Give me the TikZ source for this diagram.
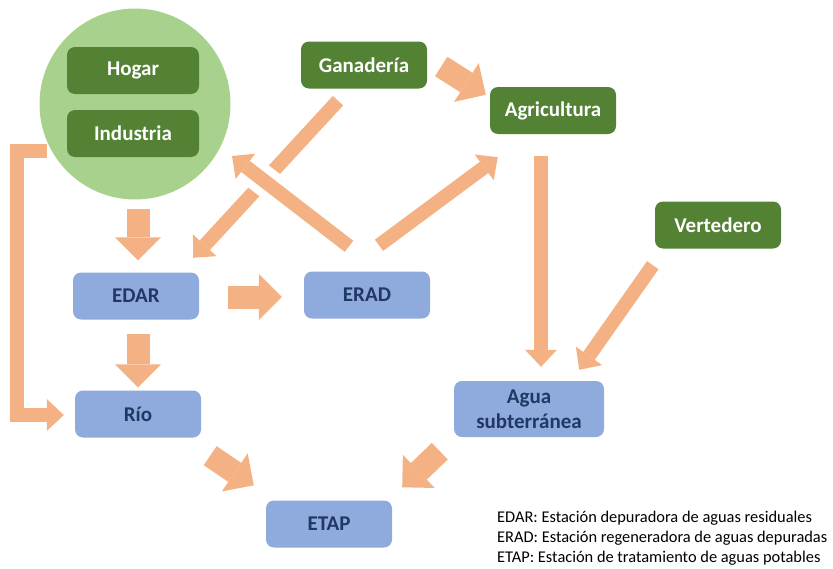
\documentclass[tikz,border=0pt]{standalone}
\usepackage{fontspec}
\setmainfont{Carlito}
\usetikzlibrary{arrows.meta,calc}

\definecolor{verdeoscuro}{HTML}{548235}
\definecolor{verdeclaro}{HTML}{A9D18E}
\definecolor{azulcaja}{HTML}{8FAADC}
\definecolor{azultexto}{HTML}{203864}
\definecolor{naranja}{HTML}{F4B183}

\tikzset{
  caja/.style={rounded corners=8pt, minimum width=126pt, minimum height=47pt, inner sep=0pt,
    align=center, font=\fontsize{21}{25}\selectfont\bfseries},
  verde/.style={caja, fill=verdeoscuro, text=white},
  azul/.style={caja, fill=azulcaja, text=azultexto},
  gruesa/.style={draw=naranja, line width=23pt, -{Triangle[length=23pt,width=46pt,line width=0pt]}},
  fina/.style={draw=naranja, line width=14pt, -{Triangle[length=17pt,width=32pt,line width=0pt]}},
}

\begin{document}
\begin{tikzpicture}[x=1pt,y=-1pt]
\useasboundingbox (0,0) rectangle (833,568);

\node[circle, fill=verdeclaro, minimum size=191pt, inner sep=0pt] (circ) at (135,104) {};
\node[verde, minimum width=132pt] (hogar) at (133,70.5) {Hogar};
\node[verde, minimum width=132pt] (industria) at (133,133.5) {Industria};
\node[verde] (gan) at (364,65) {Ganadería};
\node[verde] (agri) at (553,110.5) {Agricultura};
\node[verde] (vert) at (718,225) {Vertedero};
\node[azul] (edar) at (136,296) {EDAR};
\node[azul] (erad) at (367,295) {ERAD};
\node[azul] (rio) at (138,414) {Río};
\node[azul] (etap) at (329,524) {ETAP};
\node[azul, minimum width=150pt, minimum height=56pt] (agua) at (529,409) {Agua\\subterránea};

\node[anchor=west, align=left, inner sep=0pt, font=\fontsize{16.4}{19.8}\selectfont] (leyenda) at (497,538)
  {EDAR: Estación depuradora de aguas residuales\\
   ERAD: Estación regeneradora de aguas depuradas\\
   ETAP: Estación de tratamiento de aguas potables};

\draw[gruesa] ([xshift=3pt,yshift=-9pt]circ.south) -- ([xshift=2pt,yshift=12pt]edar.north);
\draw[gruesa] ([xshift=29pt,yshift=-1pt]edar.east) -- ([xshift=-22pt,yshift=-2pt]erad.west);
\draw[gruesa] ([xshift=2pt,yshift=-14pt]edar.south) -- ([yshift=3pt]rio.north);
\draw[gruesa] ([xshift=9pt,yshift=-18pt]rio.south east) -- ([xshift=-12pt,yshift=15pt]etap.north west);
\draw[gruesa] ([xshift=-14pt,yshift=-14pt]agua.south west) -- ([xshift=10pt,yshift=13pt]etap.north east);
\draw[gruesa] ([xshift=14pt,yshift=-1.5pt]gan.east) -- ([xshift=-4pt,yshift=-8pt]agri.north west);

\draw[fina] ([xshift=-26pt,yshift=-12pt]gan.south) -- ([xshift=-6pt,yshift=14.5pt]edar.north east);
\coordinate (sal) at ([xshift=-18pt,yshift=25pt]erad.north);
\coordinate (lleg) at ([xshift=97pt,yshift=-52pt]circ.center);
\draw[white, line width=30pt] ($(sal)!0.6!(lleg)$) -- ($(sal)!0.85!(lleg)$);
\draw[fina] (sal) -- (lleg);
\draw[fina] ([xshift=12pt,yshift=26pt]erad.north) -- ([xshift=8pt,yshift=-23pt]agri.south west);
\draw[fina] ([xshift=-12pt,yshift=-22pt]agri.south) -- ([xshift=12pt,yshift=14pt]agua.north);
\draw[fina] ([xshift=-2pt,yshift=-16.5pt]vert.south west) -- ([xshift=-25pt,yshift=11pt]agua.north east);
\draw[fina] ([xshift=-88pt,yshift=-47pt]circ.center) -- ++(-30.5,0) |- ([xshift=-11pt,yshift=-1pt]rio.west);
\end{tikzpicture}
\end{document}
